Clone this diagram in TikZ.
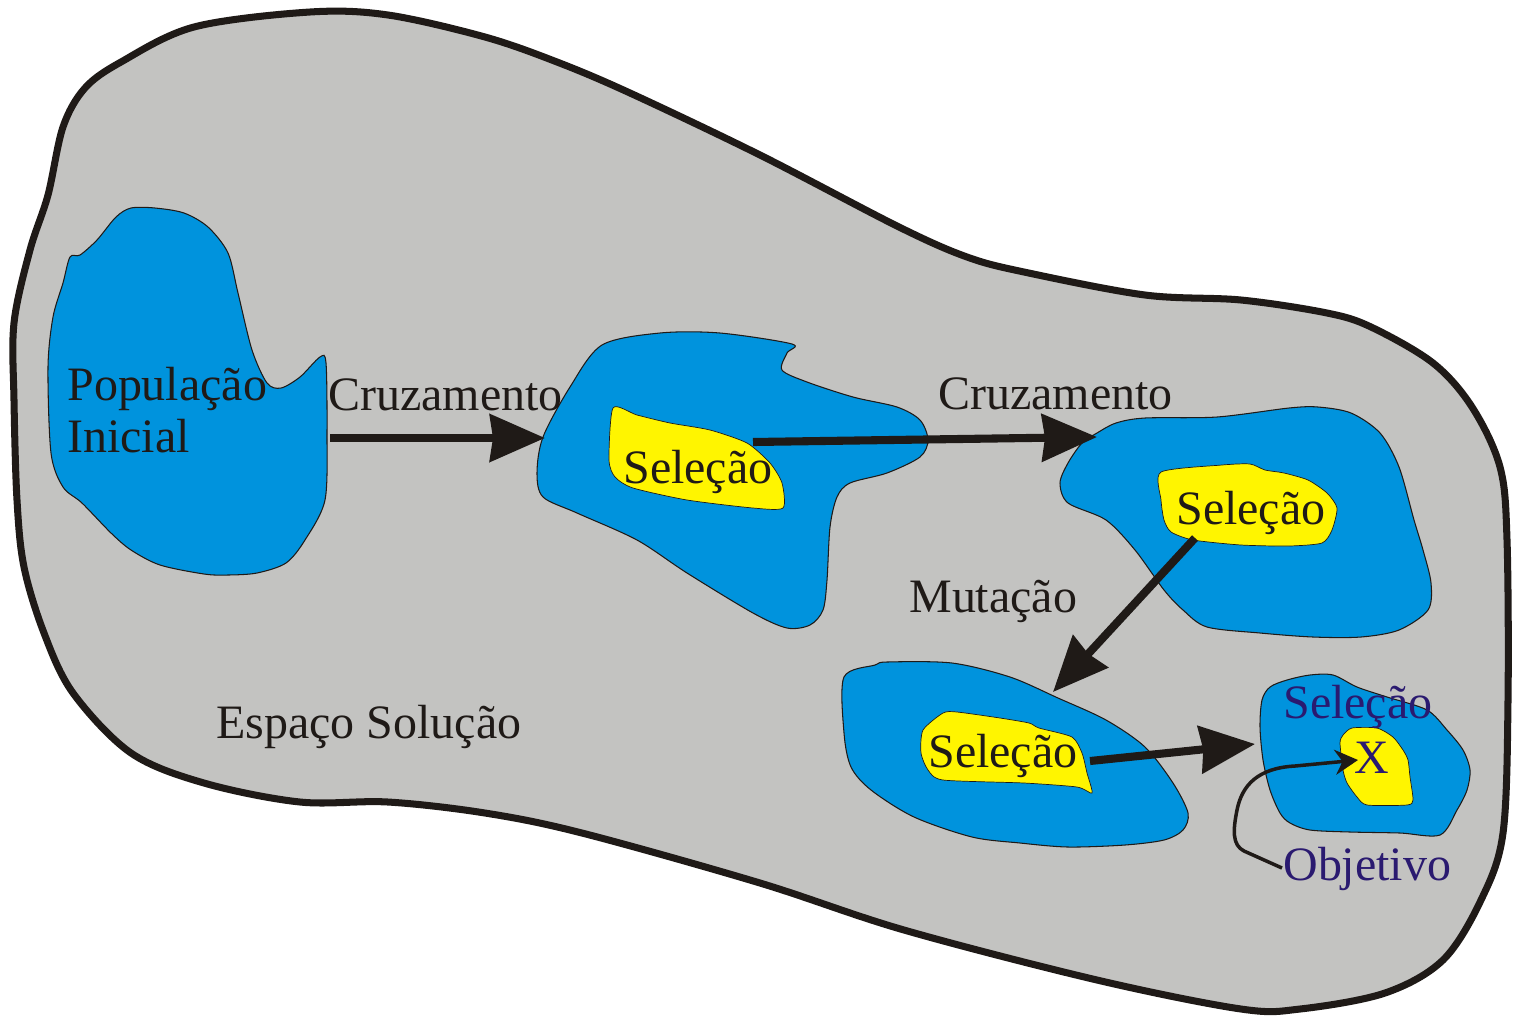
\documentclass[tikz,border=0pt]{standalone}
\usepackage{fontspec}
\setmainfont{Liberation Serif}
\usetikzlibrary{arrows.meta}
\definecolor{cinza}{RGB}{195,195,193}
\definecolor{azul}{RGB}{0,147,221}
\definecolor{amarelo}{RGB}{255,245,0}
\definecolor{preto}{RGB}{31,26,23}
\definecolor{anil}{RGB}{42,26,112}

\begin{document}
\begin{tikzpicture}[x=0.02cm,y=-0.02cm,
  regiao/.style={fill=azul,draw=preto,line width=0.6pt},
  alvo/.style={fill=amarelo,draw=preto,line width=0.4pt},
  rotulo/.style={inner sep=0pt,anchor=base west,text=preto,font=\fontsize{27.3}{32}\selectfont},
  seta/.style={draw=preto,line width=4.6pt,-{Stealth[length=1.1cm,width=0.94cm,inset=0.06cm]}}]
\useasboundingbox (0,0) rectangle (1513,1015);

% espaco solucao
\draw[fill=cinza,draw=preto,line width=4pt] plot[smooth cycle,tension=0.55] coordinates {
  (14,323) (30,250) (48,195) (63,127) (85,88) (121,62) (194,27) (310,12) (388,15)
  (485,37) (557,62) (630,93) (760,155) (899,227) (967,257) (1024,272) (1145,295)
  (1241,300) (1327,313) (1371,327) (1433,363) (1472,407) (1500,467) (1507,540)
  (1508,700) (1503,833) (1481,900) (1443,960) (1385,993) (1300,1009) (1241,1009)
  (1097,980) (904,930) (760,883) (582,833) (485,813) (388,802) (300,802) (204,783)
  (131,753) (73,693) (44,633) (24,567) (17,500) (14,400)};

% populacoes
\draw[regiao] plot[smooth cycle,tension=0.5] coordinates {
  (70,257) (80,255) (97,240) (116,217) (131,208) (155,208) (184,213) (208,227)
  (228,253) (238,293) (252,350) (267,383) (281,388) (300,377) (320,357) (326,363)
  (327,433) (325,500) (305,540) (286,563) (257,573) (228,575) (204,574) (160,565)
  (131,550) (111,533) (82,503) (63,487) (51,453) (48,367) (53,317) (63,283)};
\draw[regiao] plot[smooth cycle,tension=0.5] coordinates {
  (602,345) (660,333) (720,333) (792,344) (787,353) (782,370) (807,382) (853,397)
  (897,407) (920,420) (928,440) (920,457) (887,473) (850,483) (837,497) (830,527)
  (827,580) (823,610) (810,625) (787,628) (753,613) (687,573) (637,540) (577,513)
  (543,497) (537,473) (543,437) (570,387)};
\draw[regiao] plot[smooth cycle,tension=0.5] coordinates {
  (1097,433) (1116,423) (1145,418) (1217,417) (1289,408) (1318,407) (1351,413)
  (1380,433) (1399,467) (1414,520) (1423,550) (1431,583) (1428,610) (1399,630)
  (1361,637) (1313,637) (1260,633) (1207,627) (1183,610) (1164,590) (1135,550)
  (1106,520) (1068,503) (1060,483) (1068,463) (1082,443)};
\draw[regiao] plot[smooth cycle,tension=0.5] coordinates {
  (844,677) (875,665) (887,662) (952,663) (1010,677) (1058,698) (1106,720)
  (1145,747) (1173,783) (1188,813) (1183,830) (1164,840) (1125,845) (1068,847)
  (1020,843) (972,837) (914,817) (871,790) (851,767) (844,733)};
\draw[regiao] plot[smooth cycle,tension=0.5] coordinates {
  (1262,700) (1270,687) (1287,680) (1310,675) (1333,675) (1357,687) (1387,697)
  (1427,710) (1447,730) (1463,750) (1470,770) (1467,790) (1457,810) (1440,835)
  (1400,833) (1350,832) (1310,830) (1290,823) (1280,813) (1270,790) (1263,760)
  (1260,727)};

% selecoes
\draw[alvo] plot[smooth cycle,tension=0.4] coordinates {
  (613,408) (637,415) (670,423) (710,430) (747,443) (770,463) (782,483) (783,508)
  (753,508) (687,500) (633,488) (615,477) (609,460)};
\draw[alvo] plot[smooth cycle,tension=0.4] coordinates {
  (1161,472) (1222,465) (1250,464) (1265,470) (1284,473) (1308,480) (1327,493)
  (1337,508) (1332,530) (1322,543) (1289,546) (1241,545) (1193,540) (1171,532)
  (1164,520) (1161,500)};
\draw[alvo] plot[smooth cycle,tension=0.4] coordinates {
  (943,713) (957,712) (1000,718) (1029,723) (1039,728) (1072,737) (1082,753)
  (1087,773) (1092,793) (1077,787) (1024,783) (943,780) (928,770) (921,753) (923,730)};
\draw[alvo] plot[smooth cycle,tension=0.4] coordinates {
  (1352,728) (1377,728) (1393,737) (1403,750) (1408,760) (1410,777) (1413,800)
  (1407,805) (1367,805) (1357,797) (1347,783) (1343,770) (1340,743) (1343,735)};

% textos
\node[rotulo] (pop) at (67,400) {População};
\node[rotulo] (ini) at (67,452) {Inicial};
\node[rotulo] (cruz1) at (328,410) {Cruzamento};
\node[rotulo] (cruz2) at (938,409) {Cruzamento};
\node[rotulo] (mut) at (909,612) {Mutação};
\node[rotulo] (esp) at (216,738) {Espaço Solução};
\node[rotulo] (sel2) at (623,483) {Seleção};
\node[rotulo] (sel3) at (1176,524) {Seleção};
\node[rotulo] (sel4) at (928,767) {Seleção};
\node[rotulo,text=anil] (sel5) at (1283,718) {Seleção};
\node[rotulo,text=anil,anchor=base] (xis) at (1372,773) {X};
\node[rotulo,text=anil] (obj) at (1283,880) {Objetivo};

% setas
\coordinate (p1) at (330,438);
\coordinate (q1) at (545,438);
\coordinate (p2) at (753,442);
\coordinate (q2) at (1097,437);
\coordinate (p3) at (1195,538);
\coordinate (q3) at (1053,692);
\coordinate (p4) at (1090,761);
\coordinate (q4) at (1255,744);
\coordinate (objin) at (1282,868);
\coordinate (xin) at (1358,760);
\draw[seta] (p1) -- (q1);
\draw[seta] (p2) -- (q2);
\draw[seta] (p3) -- (q3);
\draw[seta] (p4) -- (q4);
\draw[preto,line width=2pt,-{Stealth[length=0.46cm,width=0.5cm]}]
  (objin) -- (1244,851) .. controls (1232,845) and (1233,830) .. (1237,810)
  .. controls (1242,785) and (1258,768) .. (1295,766) -- (xin);
\end{tikzpicture}
\end{document}
